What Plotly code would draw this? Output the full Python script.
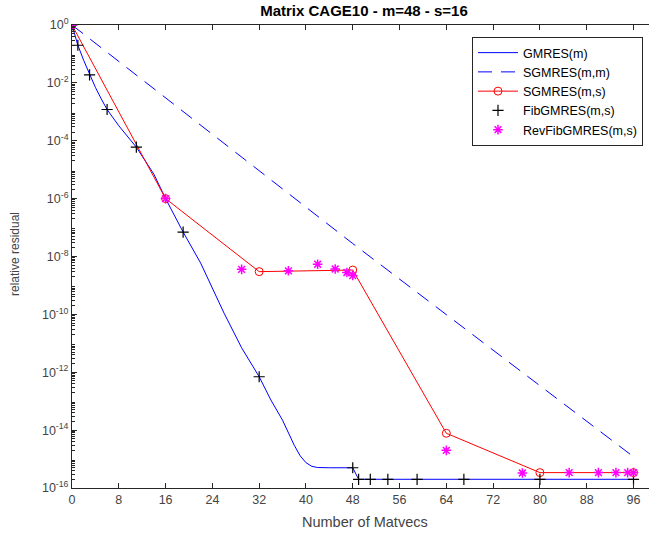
import plotly.graph_objects as go

# GMRES(m): sampled along the curve
gmres_x = [0, 1, 2, 3, 4, 5, 6, 8, 11, 14, 16, 19, 22, 26, 29, 32, 34, 36, 37, 38, 39, 40, 41, 42, 44, 46, 48, 49, 96]
gmres_y = [1, 0.2, 0.06, 1.9e-2, 7e-3, 2.8e-3, 1.2e-3, 3.3e-4, 6e-5, 7e-6, 1e-6, 7e-8, 5.9e-9, 1.1e-10, 7e-12, 7e-13, 1.1e-13, 2.2e-14, 8e-15, 3e-15, 1.3e-15, 7.5e-16, 5.6e-16, 5.1e-16, 5e-16, 5e-16, 5e-16, 2e-16, 2e-16]

# SGMRES(m,m)
sg_mm_x = [0, 48, 96]
sg_mm_y = [1, 2.8e-8, 1.2e-15]

# SGMRES(m,s)
sg_ms_x = [0, 16, 32, 48, 64, 80, 96]
sg_ms_y = [1, 1e-6, 3.0e-9, 3.4e-9, 7.8e-15, 3.4e-16, 3.4e-16]

# FibGMRES(m,s)
fib_x = [0, 1, 3, 6, 11, 19, 32, 48, 49, 51, 54, 59, 67, 80, 96]
fib_y = [1, 0.2, 1.9e-2, 1.2e-3, 6e-5, 7e-8, 7e-13, 5e-16, 2e-16, 2e-16, 2e-16, 2e-16, 2e-16, 2e-16, 2e-16]

# RevFibGMRES(m,s)
rev_x = [0, 16, 29, 37, 42, 45, 47, 48, 64, 77, 85, 90, 93, 95, 96]
rev_y = [1, 1e-6, 3.6e-9, 3.2e-9, 5.4e-9, 3.7e-9, 2.8e-9, 2.2e-9, 2e-15, 3.3e-16, 3.4e-16, 3.4e-16, 3.4e-16, 3.4e-16, 3.4e-16]

x_ticks = list(range(0, 97, 8))
y_tick_exps = list(range(0, -17, -2))

fig = go.Figure()
fig.add_trace(go.Scatter(x=gmres_x, y=gmres_y, mode="lines", name="GMRES(m)",
                         line=dict(color="#0000ff", width=1)))
fig.add_trace(go.Scatter(x=sg_mm_x, y=sg_mm_y, mode="lines", name="SGMRES(m,m)",
                         line=dict(color="#0000ff", width=1, dash="14px,9px")))
fig.add_trace(go.Scatter(x=sg_ms_x, y=sg_ms_y, mode="lines+markers", name="SGMRES(m,s)",
                         line=dict(color="#ff0000", width=1),
                         marker=dict(symbol="circle-open", size=8, color="#ff0000", line=dict(width=1))))
fig.add_trace(go.Scatter(x=fib_x, y=fib_y, mode="markers", name="FibGMRES(m,s)",
                         marker=dict(symbol="cross-thin-open", size=8, color="#000000", line=dict(width=1.2, color="#000000"))))
fig.add_trace(go.Scatter(x=rev_x, y=rev_y, mode="markers", name="RevFibGMRES(m,s)",
                         marker=dict(symbol="asterisk-open", size=8, color="#ff00ff", line=dict(width=1.5, color="#ff00ff"))))

font_family = "Liberation Sans, Arial, sans-serif"
axis_color = "#262626"
label_color = "#444444"

minor_vals = [k * 10.0 ** e for e in range(-16, 0) for k in range(2, 10)]

W, H = 649, 536
L, R, T, B = 72, 0, 25, 48
pw, ph = W - L - R, H - T - B

fig.update_layout(
    width=W, height=H,
    margin=dict(l=L, r=R, t=T, b=B, autoexpand=False),
    paper_bgcolor="white", plot_bgcolor="white",
    font=dict(family=font_family, size=12, color=label_color),
    title=dict(text="<b>Matrix CAGE10 - m=48 - s=16</b>", x=364 / W, xanchor="center",
               y=1 - 11 / H, yanchor="middle", font=dict(size=15, color="#000000")),
    showlegend=True,
    legend=dict(x=(643 - L) / pw, xanchor="right", y=(H - B - 37) / ph, yanchor="top",
                bgcolor="white", bordercolor="#262626", borderwidth=1,
                font=dict(size=12.5, color="#000000"), itemwidth=40, tracegroupgap=0),
    xaxis=dict(range=[0, 98.65], tickvals=x_ticks, ticktext=[str(v) for v in x_ticks],
               showgrid=False, zeroline=False, showline=True, linecolor=axis_color, linewidth=1,
               mirror="ticks", ticks="inside", ticklen=5, tickcolor=axis_color,
               tickfont=dict(size=12.5, color=label_color), automargin=False),
    yaxis=dict(type="log", range=[-16, 0],
               tickvals=[10.0 ** e for e in y_tick_exps],
               ticktext=["10<sup>%s</sup>" % e for e in y_tick_exps],
               showgrid=False, zeroline=False, showline=True, linecolor=axis_color, linewidth=1,
               mirror=False, ticks="inside", ticklen=5, tickcolor=axis_color,
               tickfont=dict(size=12.5, color=label_color), automargin=False,
               minor=dict(ticks="inside", ticklen=3, tickcolor=axis_color, tickvals=minor_vals)),
    annotations=[
        dict(text="Number of Matvecs", xref="paper", yref="paper", x=(365 - L) / pw, y=(H - B - 522) / ph,
             xanchor="center", yanchor="middle", showarrow=False, font=dict(size=14.5, color=label_color)),
        dict(text="relative residual", xref="paper", yref="paper", x=(15 - L) / pw, y=(H - B - 254) / ph,
             xanchor="center", yanchor="middle", showarrow=False, textangle=-90,
             font=dict(size=12, color=label_color)),
    ],
)

fig.write_html("out.html", config={"displayModeBar": False},
               post_script="document.body.style.margin='0';document.body.style.overflow='hidden';")
